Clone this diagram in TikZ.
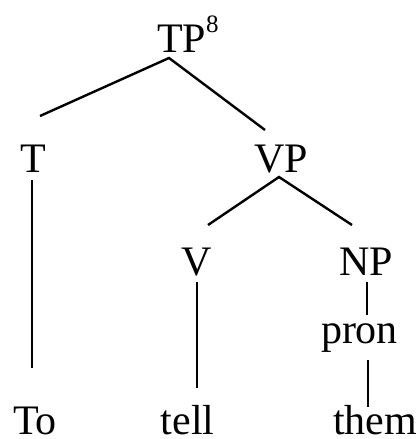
\documentclass[tikz,border=0pt]{standalone}
\usepackage{fontspec}
\setmainfont{Liberation Serif}
\begin{document}
\begin{tikzpicture}[x=1pt,y=-1pt,
  lbl/.style={anchor=base,inner sep=0pt,font=\fontsize{42}{50}\selectfont},
  branch/.style={line width=2.4pt}]
\useasboundingbox (0,0) rectangle (418,439);
% labels of the tree
\node[lbl,anchor=base west] (TP) at (157,52) {TP\raisebox{20pt}{\fontsize{25}{25}\selectfont 8}};
\node[lbl] (T) at (33.5,172) {T};
\node[lbl] (VP) at (281.5,172) {VP};
\node[lbl] (V) at (197,275) {V};
\node[lbl] (NP) at (366.5,275) {NP};
\node[lbl] (pron) at (359.5,343) {pron};
\node[lbl] (To) at (35,434) {To};
\node[lbl] (tell) at (187.5,434) {tell};
\node[lbl] (them) at (375,434) {them};
% attachment points of the branches
\coordinate (TPd) at (169,58);
\coordinate (TPl) at (40,116);
\coordinate (TPr) at (265,130);
\coordinate (Td) at (32,180);
\coordinate (Tl) at (32,368);
\coordinate (VPd) at (279,177);
\coordinate (VPl) at (208,225);
\coordinate (VPr) at (352,225);
\coordinate (Vd) at (197,282);
\coordinate (Vl) at (197,388);
\coordinate (NPd) at (367,282);
\coordinate (NPl) at (367,315);
\coordinate (prond) at (368,360);
\coordinate (pronl) at (368,407);
% branches
\draw[branch] (TPl) -- (TPd) -- (TPr);
\draw[branch] (Td) -- (Tl);
\draw[branch] (VPl) -- (VPd) -- (VPr);
\draw[branch] (Vd) -- (Vl);
\draw[branch] (NPd) -- (NPl);
\draw[branch] (prond) -- (pronl);
\end{tikzpicture}
\end{document}
